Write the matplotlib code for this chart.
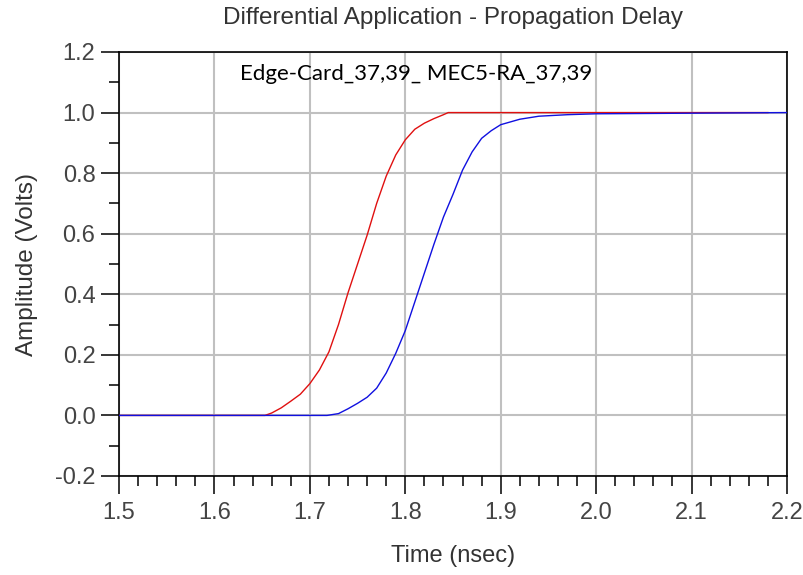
import matplotlib.pyplot as plt
from matplotlib.ticker import MultipleLocator

plt.rcParams['font.family'] = ['Liberation Sans', 'DejaVu Sans']

# red trace (time in nsec, amplitude in volts)
red_time = [1.50, 1.653, 1.66, 1.67, 1.68, 1.69, 1.70, 1.71, 1.72, 1.73, 1.74,
            1.75, 1.76, 1.77, 1.78, 1.79, 1.80, 1.81, 1.82, 1.83, 1.84, 1.845, 2.18]
red_volts = [0.0, 0.0, 0.008, 0.025, 0.047, 0.07, 0.105, 0.15, 0.21, 0.30, 0.405,
             0.50, 0.595, 0.70, 0.79, 0.86, 0.91, 0.945, 0.965, 0.98, 0.993, 1.0, 1.0]

# blue trace
blue_time = [1.50, 1.718, 1.73, 1.74, 1.75, 1.76, 1.77, 1.78, 1.79, 1.80, 1.81,
             1.82, 1.83, 1.84, 1.85, 1.86, 1.87, 1.88, 1.89, 1.90, 1.92, 1.94,
             1.97, 2.00, 2.20]
blue_volts = [0.0, 0.0, 0.006, 0.022, 0.04, 0.06, 0.09, 0.14, 0.205, 0.28, 0.375,
              0.47, 0.565, 0.655, 0.73, 0.81, 0.87, 0.915, 0.94, 0.96, 0.978, 0.988,
              0.993, 0.996, 1.0]

title = "Differential Application - Propagation Delay"
note = "Edge-Card_37,39_ MEC5-RA_37,39"

fig = plt.figure(figsize=(8.04, 5.75), dpi=100, facecolor='white')
ax = fig.add_axes([119 / 804, 1 - 476 / 575, (787 - 119) / 804, (476 - 52) / 575])

ax.plot(red_time, red_volts, color='#e01010', lw=1.0, zorder=3)
ax.plot(blue_time, blue_volts, color='#1010e0', lw=1.0, zorder=3)

ax.set_xlim(1.5, 2.2)
ax.set_ylim(-0.2, 1.2)
ax.xaxis.set_major_locator(MultipleLocator(0.1))
ax.xaxis.set_minor_locator(MultipleLocator(0.02))
ax.yaxis.set_major_locator(MultipleLocator(0.2))
ax.yaxis.set_minor_locator(MultipleLocator(0.1))
ax.xaxis.set_major_formatter(plt.FormatStrFormatter('%.1f'))
ax.yaxis.set_major_formatter(plt.FormatStrFormatter('%.1f'))

ax.grid(True, which='major', color='#c0c0c0', lw=1.5, zorder=0)
ax.set_axisbelow(True)
for s in ax.spines.values():
    s.set_color('black')
    s.set_linewidth(1.2)

ax.tick_params(which='major', direction='out', length=13, width=1.1,
               labelsize=17, labelcolor='#444444', pad=4)
ax.tick_params(which='minor', direction='out', length=7, width=1.1)
ax.tick_params(axis='x', which='major', pad=6)

ax.set_xlabel("Time (nsec)", fontsize=17, color='#333333', labelpad=15)
ax.set_ylabel("Amplitude (Volts)", fontsize=17.5, color='#333333', labelpad=12)
fig.text(453 / 804, 1 - 18 / 575, title, ha='center', va='center',
         fontsize=17.5, color='#333333')

ax.text(1.627, 1.126, note, ha='left', va='center', fontsize=16,
        color='black', family=['Lato', 'DejaVu Sans'])

fig.savefig("out.png", dpi=100)
